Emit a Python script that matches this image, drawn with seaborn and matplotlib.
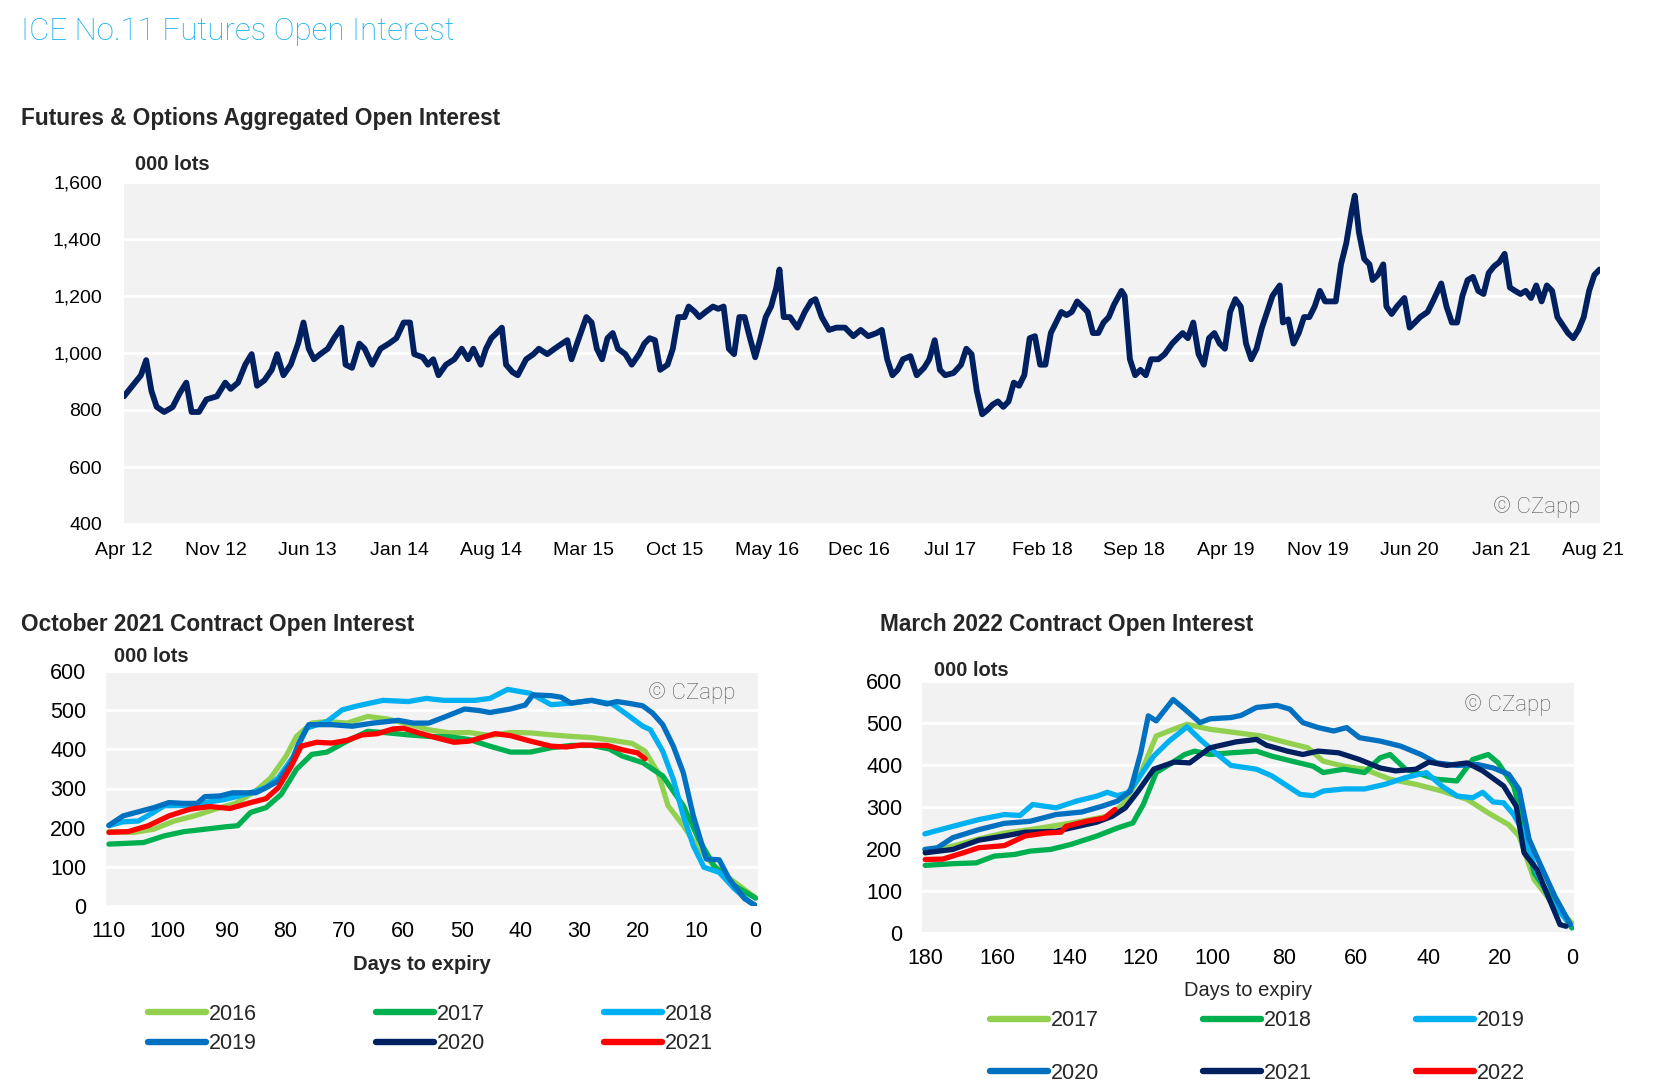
import numpy as np
import pandas as pd
import matplotlib
matplotlib.use("Agg")
import matplotlib.pyplot as plt
from matplotlib.lines import Line2D
from matplotlib.ticker import FuncFormatter
import seaborn as sns

# ---------------- data ----------------
# Top chart: months since Apr 2012, aggregated OI (000 lots)
oi_months = [0, 0.64, 1.29, 1.69, 2.09, 2.49, 3.06, 3.70, 4.26, 4.75, 5.15, 5.71, 6.28, 7.08, 7.72, 8.13, 8.69,
             9.25, 9.73, 10.14, 10.70, 11.26, 11.67, 12.15, 12.71, 13.27, 13.68, 14.08, 14.48, 14.96, 15.53, 16.01,
             16.57, 16.89, 17.38, 17.94, 18.34, 18.91, 19.55, 20.19, 20.76, 21.32, 21.80, 22.12, 22.77, 23.17, 23.57,
             23.97, 24.54, 25.18, 25.74, 26.23, 26.63, 27.19, 27.59, 28.00, 28.40, 28.80, 29.12, 29.61, 30.01, 30.65,
             31.21, 31.62, 32.26, 32.82, 33.39, 33.79, 34.11, 34.67, 35.24, 35.64, 36.04, 36.44, 36.85, 37.25, 37.65,
             38.21, 38.70, 39.26, 39.66, 40.06, 40.47, 40.87, 41.43, 41.83, 42.24, 42.72, 43.04, 43.52, 43.85, 44.33,
             44.89, 45.29, 45.70, 46.10, 46.50, 46.90, 47.30, 47.71, 48.11, 48.51, 48.91, 49.32, 49.72, 49.96, 50.28,
             50.76, 51.33, 51.89, 52.37, 52.70, 53.18, 53.74, 54.30, 54.95, 55.59, 56.15, 56.72, 57.36, 57.76, 58.17,
             58.57, 58.97, 59.37, 59.94, 60.42, 60.98, 61.38, 61.79, 62.19, 62.59, 63.23, 63.80, 64.20, 64.60, 65.00,
             65.41, 65.81, 66.21, 66.61, 67.02, 67.42, 67.82, 68.22, 68.62, 69.03, 69.43, 69.83, 70.23, 70.64, 71.04,
             71.44, 71.84, 72.24, 72.65, 73.05, 73.45, 73.85, 74.26, 74.66, 75.06, 75.46, 76.03, 76.27, 76.67, 77.07,
             77.47, 77.88, 78.28, 78.84, 79.32, 79.89, 80.29, 80.69, 81.09, 81.50, 81.90, 82.30, 82.70, 83.11, 83.51,
             83.91, 84.31, 84.71, 85.12, 85.52, 85.92, 86.32, 86.73, 87.13, 87.53, 88.09, 88.33, 88.74, 89.14, 89.54,
             89.94, 90.35, 90.75, 91.15, 91.55, 91.95, 92.36, 92.76, 93.16, 93.56, 93.81, 94.13, 94.53, 94.93, 95.17,
             95.57, 95.98, 96.22, 96.62, 97.02, 97.59, 97.99, 98.39, 98.79, 99.36, 99.76, 100.40, 100.80, 101.21,
             101.61, 102.01, 102.41, 102.82, 103.22, 103.62, 104.02, 104.42, 104.83, 105.23, 105.63, 106.03, 106.44,
             106.84, 107.24, 107.64, 108.05, 108.45, 108.85, 109.25, 110.06, 110.46, 110.86, 111.26, 111.67, 112.07,
             112.47]
oi_values = [848, 885, 922, 975, 867, 811, 793, 810, 860, 896, 793, 793, 837, 848, 896, 874, 896,
             960, 996, 885, 904, 941, 996, 922, 959, 1033, 1107, 1015, 978, 996, 1015, 1052,
             1089, 959, 948, 1033, 1015, 959, 1015, 1033, 1052, 1107, 1107, 996, 985, 959, 978,
             922, 959, 978, 1015, 978, 1015, 959, 1015, 1052, 1070, 1089, 959, 933, 922, 978,
             996, 1015, 996, 1015, 1033, 1045, 978, 1052, 1126, 1107, 1015, 978, 1052, 1070, 1015,
             996, 959, 996, 1033, 1052, 1045, 941, 959, 1015, 1126, 1126, 1163, 1144, 1126, 1144,
             1163, 1155, 1163, 1015, 996, 1126, 1126, 1052, 985, 1052, 1126, 1163, 1230, 1293, 1126,
             1126, 1089, 1144, 1181, 1189, 1126, 1081, 1089, 1089, 1059, 1081, 1059, 1070, 1081, 978,
             922, 941, 978, 989, 922, 948, 978, 1045, 941, 922, 930, 959, 1015, 996, 867,
             785, 800, 819, 830, 811, 830, 896, 885, 922, 1052, 1059, 959, 959, 1070, 1107,
             1144, 1133, 1144, 1181, 1163, 1144, 1070, 1070, 1107, 1126, 1170, 1218, 1200, 978, 922,
             941, 922, 978, 978, 996, 1033, 1052, 1070, 1052, 1107, 996, 959, 1052, 1070, 1033,
             1015, 1144, 1189, 1163, 1033, 978, 1015, 1089, 1144, 1200, 1237, 1107, 1118, 1033, 1070,
             1126, 1126, 1163, 1218, 1181, 1181, 1181, 1311, 1385, 1496, 1552, 1422, 1330, 1311, 1256,
             1274, 1311, 1163, 1137, 1163, 1193, 1089, 1107, 1126, 1144, 1181, 1244, 1163, 1107,
             1107, 1200, 1256, 1267, 1218, 1207, 1281, 1304, 1319, 1348, 1230, 1218, 1207,
             1218, 1193, 1237, 1181, 1237, 1218, 1126, 1070, 1052, 1081, 1126, 1218, 1274,
             1293]
top_tick_months = [0, 7, 14, 21, 28, 35, 42, 49, 56, 63, 70, 77, 84, 91, 98, 105, 112]
top_tick_labels = ["Apr 12", "Nov 12", "Jun 13", "Jan 14", "Aug 14", "Mar 15", "Oct 15", "May 16", "Dec 16",
                   "Jul 17", "Feb 18", "Sep 18", "Apr 19", "Nov 19", "Jun 20", "Jan 21", "Aug 21"]

# October 2021 contract: days to expiry / OI by year
oct_2016_days = [110, 105.8, 102.4, 98.9, 95.5, 92, 88.5, 85, 82.5, 79.9, 78.1, 75.5, 72.9, 69.5, 66, 62.5, 59.1,
                 55.6, 52.1, 48.7, 45.2, 41.7, 38.3, 34.8, 31.4, 27.9, 24.4, 21, 18.8, 16.6, 14.9, 12.3, 9.7, 7.1,
                 3.6, 0.2]
oct_2016_vals = [190, 188, 196, 217, 230, 247, 262, 294, 327, 382, 433, 467, 471, 467, 484, 477, 465,
                 450, 442, 443, 435, 443, 442, 437, 433, 430, 423, 415, 395, 340, 256, 205, 146, 103,
                 61, 23]
oct_2017_days = [110, 104.1, 100.6, 97.2, 93.7, 90.3, 88.1, 85.9, 83.3, 80.7, 78.1, 75.5, 72.9, 69.5, 66, 62.5,
                 59.1, 55.6, 52.1, 48.7, 45.2, 41.7, 38.3, 34.8, 31.4, 27.9, 24.9, 22.7, 19.2, 15.8, 12.3, 9.7,
                 7.1, 3.6, 0]
oct_2017_vals = [158, 162, 179, 190, 196, 202, 205, 239, 251, 285, 349, 387, 393, 421, 446, 442,
                 437, 433, 432, 425, 408, 393, 393, 404, 410, 410, 401, 383, 366, 332, 256, 171,
                 103, 52, 20]
oct_2018_days = [110, 107.6, 105, 102.4, 100.6, 97.2, 93.7, 90.3, 86.8, 83.3, 81.2, 78.6, 76.4, 72.9, 70.3, 67.7,
                 63.4, 59.1, 56, 53, 47.8, 45.2, 42.2, 38.3, 34.8, 31.4, 27.9, 24.4, 21.8, 19.2, 17.9, 15.8, 14,
                 12.3, 10.6, 8.8, 6.2, 3.6, 1, 0.2]
oct_2018_vals = [205, 215, 217, 239, 256, 257, 264, 272, 285, 302, 327, 382, 454, 471, 501, 511,
                 525, 522, 530, 525, 525, 530, 553, 543, 514, 518, 525, 516, 488, 459, 450, 395, 323,
                 230, 154, 99, 86, 44, 10, 3]
oct_2019_days = [110, 107.6, 102.4, 99.8, 97.2, 95, 93.7, 91.1, 89, 85, 83.3, 81.2, 79, 77.7, 76, 72.1, 68.6,
                 65.1, 60.8, 58.2, 55.6, 53, 49.5, 47, 45.2, 41.7, 39.2, 37.9, 34.8, 33.1, 31.4, 27.9, 25.3,
                 23.6, 21, 19.2, 17.5, 15.8, 14, 12.3, 10.6, 8.4, 6.2, 4.5, 1.9, 0.2]
oct_2019_vals = [206, 230, 251, 264, 262, 262, 279, 281, 289, 289, 302, 319, 366, 416, 463, 463, 459,
                 467, 474, 467, 467, 482, 503, 499, 494, 503, 513, 539, 537, 533, 518, 525, 516,
                 522, 516, 511, 492, 463, 408, 340, 230, 120, 118, 69, 19, 3]
oct_2021_days = [110, 106.7, 103.3, 99.8, 96.3, 92.9, 89.4, 85.9, 83.3, 81.2, 79, 77.3, 74.7, 72.1, 69.5, 66.9,
                 64.3, 61.7, 59.9, 57.3, 54.7, 51.3, 48.7, 44.3, 41.7, 38.3, 34.8, 32.2, 29.6, 25.3, 22.7, 20.1,
                 18.8]
oct_2021_vals = [188, 190, 205, 230, 247, 254, 249, 264, 274, 302, 357, 408, 418, 416, 423, 437,
                 440, 452, 454, 442, 431, 418, 421, 440, 435, 421, 408, 406, 411, 410, 399, 391,
                 376]
oct_years = ["2016", "2017", "2018", "2019", "2020", "2021"]
oct_colors = ["#92D050", "#00B050", "#00B0F0", "#0070C0", "#002060", "#FF0000"]

# March 2022 contract
mar_2017_days = [180, 172.3, 165.1, 158, 150.8, 143.6, 136.5, 129.3, 125, 120.7, 115.7, 112.1, 107.1, 100.7, 93.5,
                 86.4, 79.2, 73.5, 69.2, 63.4, 57.7, 50.6, 43.4, 36.2, 29.1, 23.3, 17.6, 14.7, 10.5, 4.7, 0]
mar_2017_vals = [191, 207, 224, 238, 246, 256, 266, 278, 306, 366, 469, 481, 497, 485, 477,
                 469, 453, 441, 409, 397, 390, 366, 354, 338, 318, 286, 258, 231, 127, 64, 24]
mar_2018_days = [180, 172.3, 165.8, 160.8, 155.1, 150.8, 145.1, 139.4, 132.2, 126.5, 122.2, 119.3, 115.7, 112.1,
                 107.8, 105, 100.7, 94.9, 87.8, 83.5, 77.8, 72, 69.2, 63.4, 57.7, 53.4, 50.6, 46.3, 43.4, 37.7,
                 32, 27.6, 23.3, 20.5, 16.2, 13.3, 10.5, 4.7, 0]
mar_2018_vals = [161, 165, 167, 183, 187, 195, 199, 211, 231, 250, 262, 306, 382, 401,
                 425, 433, 425, 429, 433, 421, 409, 397, 382, 390, 382, 417, 425, 390, 382, 366,
                 362, 413, 425, 405, 350, 254, 143, 72, 12]
mar_2019_days = [180.1, 172.3, 165.1, 158, 153.6, 150.1, 143.6, 137.9, 132.2, 129.3, 126.5, 123.6, 120.8, 116.4,
                 112.1, 107.1, 103.5, 99.2, 94.9, 87.8, 83.5, 79.2, 75.6, 72, 69.2, 63.4, 57.7, 52, 46.3, 40.5,
                 36.2, 31.9, 27.6, 24.8, 21.9, 19, 16.2, 13.3, 10.5, 6.2, 0.4]
mar_2019_vals = [236, 254, 270, 282, 280, 306, 298, 314, 326, 335, 327, 334, 366, 421,
                 457, 491, 461, 429, 399, 390, 374, 350, 330, 327, 338, 343, 343, 354, 370, 382,
                 350, 326, 322, 335, 312, 310, 282, 238, 159, 79, 20]
mar_2020_days = [180.1, 176.6, 172.3, 165.1, 158, 150.8, 143.6, 136.5, 130.7, 126.5, 122.9, 120, 117.9, 115.7,
                 111, 107.8, 103.5, 100.7, 94.9, 92.1, 87.8, 82.1, 78.5, 74.9, 70.6, 66.3, 62.7, 59.1, 53.4,
                 47.7, 42, 37.7, 32, 26.2, 21.9, 17.6, 14.7, 11.9, 9, 4.7, 0.4]
mar_2020_vals = [199, 203, 227, 246, 261, 266, 282, 288, 302, 314, 338, 429, 517, 505,
                 556, 533, 501, 510, 513, 518, 537, 542, 533, 501, 489, 481, 489, 465, 457,
                 445, 425, 405, 399, 401, 393, 378, 342, 223, 167, 87, 20]
mar_2021_days = [180, 172.3, 165.1, 158, 152.2, 143.6, 137.9, 132.2, 127.9, 124.3, 120.7, 116.4, 110.7, 106.4,
                 100.7, 93.5, 87.8, 85, 79.2, 74.9, 70.6, 64.9, 59.1, 53.4, 49.1, 43.4, 39.8, 34.8, 29.1, 24.8,
                 19, 15.5, 13.3, 9.7, 6.2, 3.3, 1.6]
mar_2021_vals = [191, 199, 221, 231, 240, 242, 253, 264, 278, 298, 338, 390, 407, 405,
                 441, 455, 461, 447, 433, 425, 433, 429, 413, 393, 386, 390, 407, 399, 405, 386,
                 350, 302, 191, 151, 79, 20, 16]
mar_2022_days = [180, 175.1, 169.4, 165.1, 158, 152.2, 146.5, 142.2, 140.8, 135.1, 130.1, 127.2]
mar_2022_vals = [175, 176, 191, 203, 208, 231, 238, 240, 254, 266, 274, 294]
mar_years = ["2017", "2018", "2019", "2020", "2021", "2022"]
mar_colors = ["#92D050", "#00B050", "#00B0F0", "#0070C0", "#002060", "#FF0000"]

# ---------------- style ----------------
sns.set_theme(style="white")
plt.rcParams["font.family"] = ["Liberation Sans", "DejaVu Sans"]
plt.rcParams["axes.unicode_minus"] = False

W, H = 1656, 1084
fig = plt.figure(figsize=(W / 100, H / 100), dpi=100)
fig.patch.set_facecolor("white")

BG = "#F2F2F2"


def frac(l, t, r, b):
    return [l / W, 1 - b / H, (r - l) / W, (b - t) / H]


def style_ax(ax, fs):
    ax.set_facecolor(BG)
    for s in ax.spines.values():
        s.set_visible(False)
    ax.grid(axis="y", color="white", lw=2)
    ax.grid(axis="x", visible=False)
    ax.set_axisbelow(True)
    ax.tick_params(axis="both", length=0, labelsize=fs, colors="black", pad=6)
    ax.set_xlabel("")
    ax.set_ylabel("")


# title texts
fig.text(21 / W, 1 - 31 / H, "ICE No.11 Futures Open Interest", color="#14ADEB", fontsize=22.5,
         family=["Roboto", "DejaVu Sans"], fontweight="light", va="center", ha="left")
fig.text(21 / W, 1 - 119 / H, "Futures & Options Aggregated Open Interest", fontsize=16.3, fontweight="bold",
         va="center", ha="left")

# ---------------- top chart ----------------
ax1 = fig.add_axes(frac(124, 182, 1600, 524))
top_df = pd.DataFrame({"month": oi_months, "oi": oi_values})
sns.lineplot(data=top_df, x="month", y="oi", ax=ax1, color="#002060", lw=4.2, estimator=None)
style_ax(ax1, 14)
ax1.set_xlim(0, 112.5)
ax1.set_ylim(400, 1600)
ax1.set_yticks([400, 600, 800, 1000, 1200, 1400, 1600])
ax1.yaxis.set_major_formatter(FuncFormatter(lambda v, p: f"{int(v):,}"))
ax1.set_xticks(top_tick_months)
ax1.set_xticklabels(top_tick_labels)
ax1.tick_params(axis="x", pad=13)
ax1.tick_params(axis="y", pad=16)
fig.text(135 / W, 1 - 164 / H, "000 lots", fontsize=14.5, fontweight="bold", va="center", ha="left")
ax1.text(0.987, 0.05, "© CZapp", transform=ax1.transAxes, ha="right", va="center", fontsize=16,
         color="#595959", family=["Roboto", "DejaVu Sans"], fontweight="light")


def long_df(days_list, vals_list, years):
    frames = []
    for d, v, y in zip(days_list, vals_list, years):
        frames.append(pd.DataFrame({"days": d, "oi": v, "year": y}))
    return pd.concat(frames, ignore_index=True)


# ---------------- October 2021 chart ----------------
ax2 = fig.add_axes(frac(106, 671, 758, 906))
oct_df = long_df([oct_2016_days, oct_2017_days, oct_2018_days, oct_2019_days, oct_2021_days],
                 [oct_2016_vals, oct_2017_vals, oct_2018_vals, oct_2019_vals, oct_2021_vals],
                 ["2016", "2017", "2018", "2019", "2021"])
sns.lineplot(data=oct_df, x="days", y="oi", hue="year", hue_order=oct_years,
             palette=dict(zip(oct_years, oct_colors)), ax=ax2, lw=3.8, estimator=None, legend=False)
style_ax(ax2, 15.5)
ax2.set_xlim(110.5, -0.4)
ax2.set_ylim(0, 600)
ax2.set_yticks(range(0, 601, 100))
ax2.set_xticks(range(110, -1, -10))
ax2.tick_params(axis="y", pad=14)
ax2.tick_params(axis="x", pad=11)
fig.text(21 / W, 1 - 624 / H, "October 2021 Contract Open Interest", fontsize=16.3, fontweight="bold",
         va="center", ha="left")
fig.text(114 / W, 1 - 656 / H, "000 lots", fontsize=14.5, fontweight="bold", va="center", ha="left")
fig.text(422 / W, 1 - 965 / H, "Days to expiry", fontsize=14.5, fontweight="bold", va="center", ha="center")
ax2.text(0.965, 0.905, "© CZapp", transform=ax2.transAxes, ha="right", va="center", fontsize=16,
         color="#595959", family=["Roboto", "DejaVu Sans"], fontweight="light")

order = [0, 3, 1, 4, 2, 5]
h_oct = [Line2D([], [], color=oct_colors[i], lw=4.6, solid_capstyle="round") for i in order]
l_oct = [oct_years[i] for i in order]
fig.legend(h_oct, l_oct, loc="center left", bbox_to_anchor=(148 / W, 1 - 1029 / H), ncol=3, frameon=False,
           fontsize=15.5, handlelength=2.7, handletextpad=0.15, columnspacing=5.5, labelspacing=0.4,
           borderpad=0, borderaxespad=0)

# ---------------- March 2022 chart ----------------
ax3 = fig.add_axes(frac(922, 681, 1574, 933))
mar_df = long_df([mar_2017_days, mar_2018_days, mar_2019_days, mar_2020_days, mar_2021_days, mar_2022_days],
                 [mar_2017_vals, mar_2018_vals, mar_2019_vals, mar_2020_vals, mar_2021_vals, mar_2022_vals],
                 mar_years)
sns.lineplot(data=mar_df, x="days", y="oi", hue="year", hue_order=mar_years,
             palette=dict(zip(mar_years, mar_colors)), ax=ax3, lw=3.8, estimator=None, legend=False)
style_ax(ax3, 15.5)
ax3.set_xlim(180.9, -0.6)
ax3.set_ylim(0, 600)
ax3.set_yticks(range(0, 601, 100))
ax3.set_xticks(range(180, -1, -20))
ax3.tick_params(axis="y", pad=14)
ax3.tick_params(axis="x", pad=11)
fig.text(880 / W, 1 - 624 / H, "March 2022 Contract Open Interest", fontsize=16.3, fontweight="bold",
         va="center", ha="left")
fig.text(934 / W, 1 - 670 / H, "000 lots", fontsize=14.5, fontweight="bold", va="center", ha="left")
fig.text(1248 / W, 1 - 990 / H, "Days to expiry", fontsize=14.5, va="center", ha="center")
ax3.text(0.965, 0.905, "© CZapp", transform=ax3.transAxes, ha="right", va="center", fontsize=16,
         color="#595959", family=["Roboto", "DejaVu Sans"], fontweight="light")

h_mar = [Line2D([], [], color=mar_colors[i], lw=4.6, solid_capstyle="round") for i in order]
l_mar = [mar_years[i] for i in order]
fig.legend(h_mar, l_mar, loc="center left", bbox_to_anchor=(990 / W, 1 - 1047 / H), ncol=3, frameon=False,
           fontsize=15.5, handlelength=2.7, handletextpad=0.15, columnspacing=4.8, labelspacing=1.45,
           borderpad=0, borderaxespad=0)

fig.savefig("out.png", dpi=100, facecolor="white")
